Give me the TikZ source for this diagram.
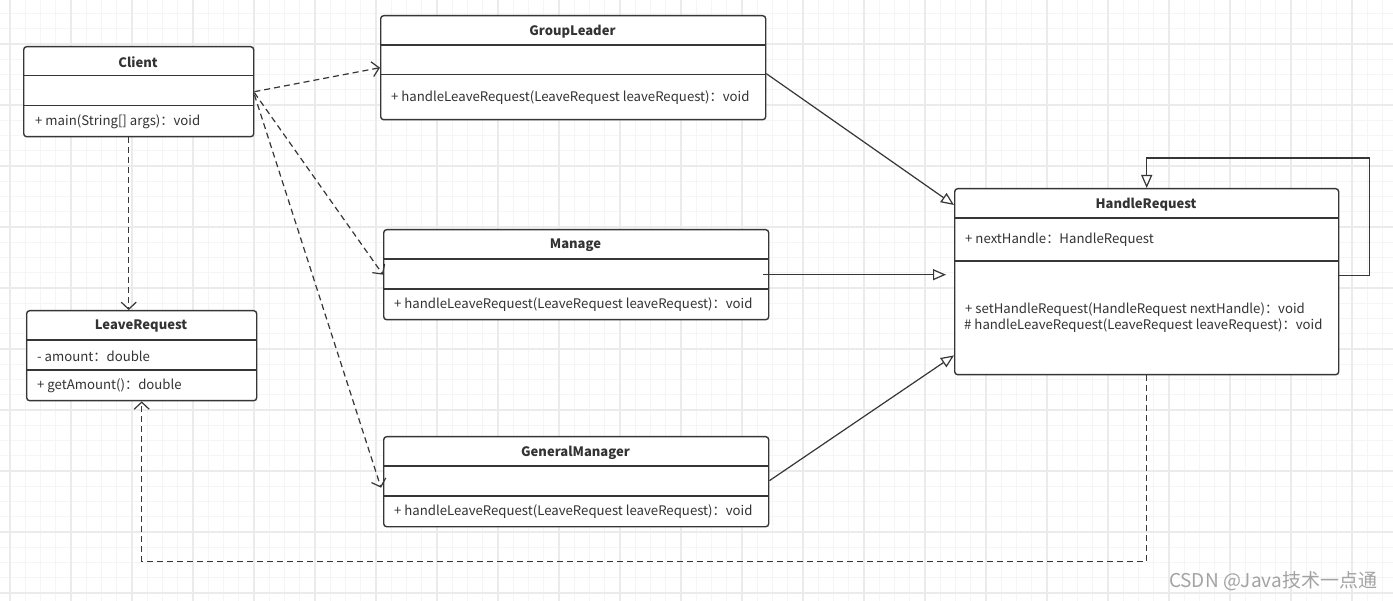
\documentclass[tikz,border=0pt]{standalone}
\usepackage{fontspec}
\newfontfamily\cjk{Noto Sans CJK SC}
\usetikzlibrary{arrows.meta,calc}
\definecolor{linec}{HTML}{363636}
\definecolor{txt}{HTML}{333333}
\definecolor{gmin}{HTML}{F5F5F5}
\definecolor{gmaj}{HTML}{EBEBEB}
\definecolor{wmc}{HTML}{A3A3A3}
\tikzset{
  cls/.style={draw=linec, line width=1.4pt, rounded corners=3pt, fill=white, inner sep=0pt, anchor=north west},
  divl/.style={draw=linec, line width=1.4pt},
  ttl/.style={font=\cjk\bfseries\fontsize{13}{15}\selectfont, text=txt, inner sep=0pt, yshift=-1.5pt},
  mem/.style={font=\cjk\fontsize{13.2}{15}\selectfont, text=txt, inner sep=0pt, anchor=west, yshift=-1pt},
  dep/.style={draw=linec, line width=1.2pt, dash pattern=on 6pt off 4pt, -{Straight Barb[length=7pt,width=15pt,line width=1.2pt]}},
  inh/.style={draw=linec, line width=1.2pt, -{Triangle[open,length=13pt,width=11pt,line width=1.2pt]}},
  gminor/.style={draw=gmin, line width=0.9pt},
  gmajor/.style={draw=gmaj, line width=1.2pt},
}
\begin{document}
\begin{tikzpicture}[x=1pt,y=-1pt]
\useasboundingbox (0,0) rectangle (1393,601);
\fill[white] (0,0) rectangle (1393,601);
% grid
\foreach \i in {0,...,92} { \draw[gminor] ({-5.25+15.25*\i},0) -- ({-5.25+15.25*\i},601); }
\foreach \i in {0,...,40} { \draw[gminor] (0,{-1.75+15.25*\i}) -- (1393,{-1.75+15.25*\i}); }
\foreach \i in {0,...,22} { \draw[gmajor] ({10+61*\i},0) -- ({10+61*\i},601); }
\foreach \i in {0,...,9} { \draw[gmajor] (0,{44+61*\i}) -- (1393,{44+61*\i}); }

% Client
\node[cls, minimum width=230pt, minimum height=90pt] (client) at (23,46) {};
\draw[divl] (23,75.5) -- (253,75.5);
\draw[divl] (23,105.5) -- (253,105.5);
\node[ttl] (clientT) at (138,61) {Client};
\node[mem] (clientM) at (35,121) {+ main(String[] args)：void};

% GroupLeader
\node[cls, minimum width=385pt, minimum height=104pt] (gl) at (380,15) {};
\draw[divl] (380,45) -- (765,45);
\draw[divl] (380,74.5) -- (765,74.5);
\node[ttl] (glT) at (572.5,30) {GroupLeader};
\node[mem] (glM) at (391,97) {+ handleLeaveRequest(LeaveRequest leaveRequest)：void};

% Manage
\node[cls, minimum width=385pt, minimum height=90pt] (man) at (383,229) {};
\draw[divl] (383,259) -- (768,259);
\draw[divl] (383,289) -- (768,289);
\node[ttl] (manT) at (575.5,244) {Manage};
\node[mem] (manM) at (394,304) {+ handleLeaveRequest(LeaveRequest leaveRequest)：void};

% GeneralManager
\node[cls, minimum width=385pt, minimum height=90pt] (gm) at (383,436) {};
\draw[divl] (383,466) -- (768,466);
\draw[divl] (383,496) -- (768,496);
\node[ttl] (gmT) at (575.5,451) {GeneralManager};
\node[mem] (gmM) at (394,511) {+ handleLeaveRequest(LeaveRequest leaveRequest)：void};

% LeaveRequest
\node[cls, minimum width=230pt, minimum height=90pt] (lr) at (26,310) {};
\draw[divl] (26,340) -- (256,340);
\draw[divl] (26,370) -- (256,370);
\node[ttl] (lrT) at (141,325) {LeaveRequest};
\node[mem] (lrA) at (37,355) {- amount：double};
\node[mem] (lrM) at (37,385) {+ getAmount()：double};

% HandleRequest
\node[cls, minimum width=384pt, minimum height=186pt] (hr) at (954,188) {};
\draw[divl] (954,218) -- (1338,218);
\draw[divl] (954,261) -- (1338,261);
\node[ttl] (hrT) at (1146,203) {HandleRequest};
\node[mem] (hrA) at (965,239) {+ nextHandle：HandleRequest};
\node[mem] (hrM1) at (965,309) {+ setHandleRequest(HandleRequest nextHandle)：void};
\node[mem] (hrM2) at (964,325) {\# handleLeaveRequest(LeaveRequest leaveRequest)：void};

% dependencies
\draw[dep] (client.east) -- (gl.west);
\draw[dep] ([yshift=-1pt]client.east) -- (man.west);
\draw[dep] ([yshift=-3pt]client.east) -- ([xshift=-2pt,yshift=-6pt]gm.west);
\draw[dep] ([xshift=-10pt]client.south) -- ([xshift=-10pt]client.south |- lr.north);
\draw[dep] (hr.south) -- ++(0,186) -| (lr.south);

% generalizations
\draw[inh] ([yshift=-6pt]gl.east) -- ([yshift=-17pt]hr.north west);
\draw[inh, shorten >=8pt] ([xshift=-6pt]man.east) -- (man.east -| hr.west);
\draw[inh] ([yshift=1pt]gm.east) -- ([yshift=20pt]hr.south west);
\draw[inh] ([yshift=6pt]hr.east) -- ++(30,0) |- ([yshift=30pt]hr.north) -- (hr.north);

% watermark
\node[font=\cjk\fontsize{19}{21}\selectfont, text=wmc, inner sep=0pt] (wm) at (1273,581) {CSDN @Java技术一点通};
\end{tikzpicture}
\end{document}
